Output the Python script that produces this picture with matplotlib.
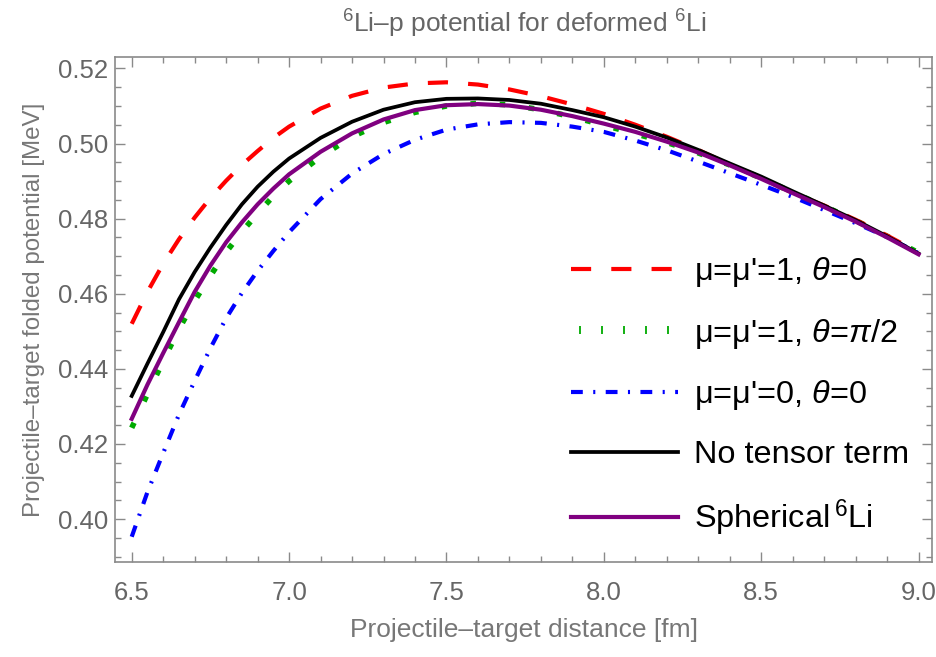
import matplotlib
matplotlib.use("Agg")
import matplotlib.pyplot as plt
from matplotlib.lines import Line2D
from matplotlib.legend_handler import HandlerLine2D
from matplotlib.ticker import MultipleLocator, FormatStrFormatter

plt.rcParams['font.family'] = ['Liberation Sans', 'DejaVu Sans']
plt.rcParams['mathtext.fontset'] = 'custom'
plt.rcParams['mathtext.rm'] = 'Liberation Sans'
plt.rcParams['mathtext.it'] = 'Liberation Sans:italic'
plt.rcParams['lines.scale_dashes'] = False

# ---- data ----
distance = [6.5, 6.55, 6.6, 6.65, 6.7, 6.75, 6.8, 6.85, 6.9, 6.95, 7.0,
            7.1, 7.2, 7.3, 7.4, 7.5, 7.6, 7.7, 7.8, 7.9, 8.0,
            8.1, 8.2, 8.3, 8.4, 8.5, 8.6, 8.7, 8.8, 8.9, 9.0]

pot_mu1_theta0 = [0.4520, 0.4605, 0.4680, 0.4745, 0.4803, 0.4855, 0.4901, 0.4943, 0.4980, 0.5015, 0.5045,
                  0.5093, 0.5127, 0.5149, 0.5160, 0.5163, 0.5157, 0.5144, 0.5126, 0.5104, 0.5079,
                  0.5050, 0.5018, 0.4983, 0.4944, 0.4907, 0.4869, 0.4835, 0.4797, 0.4755, 0.4710]

pot_mu1_thetapi2 = [0.4243, 0.4333, 0.4421, 0.4506, 0.4581, 0.4648, 0.4711, 0.4765, 0.4814, 0.4860, 0.4900,
                    0.4965, 0.5018, 0.5056, 0.5083, 0.5100, 0.5107, 0.5103, 0.5090, 0.5071, 0.5049,
                    0.5026, 0.5003, 0.4975, 0.4943, 0.4908, 0.4870, 0.4833, 0.4795, 0.4753, 0.4709]

pot_mu0_theta0 = [0.3953, 0.4072, 0.4176, 0.4278, 0.4368, 0.4455, 0.4535, 0.4602, 0.4661, 0.4714, 0.4764,
                  0.4852, 0.4920, 0.4972, 0.5010, 0.5037, 0.5051, 0.5057, 0.5055, 0.5045, 0.5031,
                  0.5008, 0.4982, 0.4952, 0.4921, 0.4890, 0.4858, 0.4823, 0.4788, 0.4751, 0.4708]

pot_no_tensor = [0.4328, 0.4414, 0.4498, 0.4585, 0.4658, 0.4723, 0.4783, 0.4838, 0.4885, 0.4925, 0.4960,
                 0.5015, 0.5058, 0.5090, 0.5110, 0.5119, 0.5120, 0.5116, 0.5106, 0.5089, 0.5070,
                 0.5045, 0.5016, 0.4983, 0.4947, 0.4912, 0.4873, 0.4835, 0.4796, 0.4753, 0.4707]

pot_spherical = [0.4267, 0.4358, 0.4442, 0.4524, 0.4605, 0.4675, 0.4737, 0.4790, 0.4838, 0.4880, 0.4918,
                 0.4978, 0.5027, 0.5064, 0.5089, 0.5102, 0.5105, 0.5101, 0.5090, 0.5073, 0.5053,
                 0.5031, 0.5005, 0.4976, 0.4942, 0.4906, 0.4868, 0.4831, 0.4792, 0.4750, 0.4705]

labels = ["μ=μ'=1, $\\mathit{\\theta}$=0",
          "μ=μ'=1, $\\mathit{\\theta}$=$\\mathit{\\pi}$/2",
          "μ=μ'=0, $\\mathit{\\theta}$=0",
          "No tensor term",
          "Spherical$\\,^{6}$Li"]

x_ticks = [6.5, 7.0, 7.5, 8.0, 8.5, 9.0]
y_ticks = [0.40, 0.42, 0.44, 0.46, 0.48, 0.50, 0.52]

# ---- figure ----
fig = plt.figure(figsize=(9.36, 6.57), dpi=100)
ax = fig.add_axes([0.1229, 0.1446, 0.8728, 0.7686])

h_red, = ax.plot(distance, pot_mu1_theta0, color='#FF0000', lw=3.0, dashes=(14.5, 14.5),
                 dash_capstyle='butt', zorder=3)
h_green, = ax.plot(distance, pot_mu1_thetapi2, color='#00AA00', lw=4.0, dashes=(4, 17),
                   dash_capstyle='butt', zorder=2)
h_blue, = ax.plot(distance, pot_mu0_theta0, color='#0000FF', lw=3.0, dashes=(8.5, 7.5, 1.5, 7.5),
                  dash_capstyle='butt', zorder=3)
h_black, = ax.plot(distance, pot_no_tensor, color='black', lw=2.7, zorder=4)
h_purple, = ax.plot(distance, pot_spherical, color='#800080', lw=3.0, zorder=5)

# legend key for the dotted green series looks like small vertical ticks
green_key = Line2D([], [], ls='none', marker='|', ms=6, mew=1.3, color='#00AA00')

ax.set_xlim(6.447, 9.0426)
ax.set_ylim(0.38858, 0.52303)

frame_color = '#8a8a8a'
for sp in ax.spines.values():
    sp.set_color(frame_color)
    sp.set_linewidth(1.2)

ax.xaxis.set_minor_locator(MultipleLocator(0.1))
ax.yaxis.set_minor_locator(MultipleLocator(0.005))
ax.set_xticks(x_ticks)
ax.set_yticks(y_ticks)
ax.xaxis.set_major_formatter(FormatStrFormatter('%.1f'))
ax.yaxis.set_major_formatter(FormatStrFormatter('%.2f'))

ax.tick_params(which='both', direction='in', top=True, right=True, color=frame_color, width=1.0)
ax.tick_params(which='major', length=7.0)
ax.tick_params(which='minor', length=4.5)
ax.tick_params(axis='x', which='major', labelsize=18.5, labelcolor='#666666', pad=14)
ax.tick_params(axis='y', which='major', labelsize=18.5, labelcolor='#666666', pad=5)

ax.set_xlabel("Projectile–target distance [fm]", fontsize=19, color='#777777', labelpad=9)
ax.set_ylabel("Projectile–target folded potential [MeV]", fontsize=17.4, color='#777777', labelpad=9)

fig.text(0.56, 0.964, "$^{6}$Li–p potential for deformed $^{6}$Li", ha='center', va='center',
         fontsize=19, color='#666666')

leg = ax.legend([h_red, green_key, h_blue, h_black, h_purple], labels,
                handler_map={green_key: HandlerLine2D(numpoints=5)},
                loc='lower right', bbox_to_anchor=(1.0, 0.0), frameon=False, fontsize=23.4,
                handlelength=3.3, handletextpad=0.5, labelspacing=0.85, borderaxespad=0.3)

fig.savefig('out.png', dpi=100)
